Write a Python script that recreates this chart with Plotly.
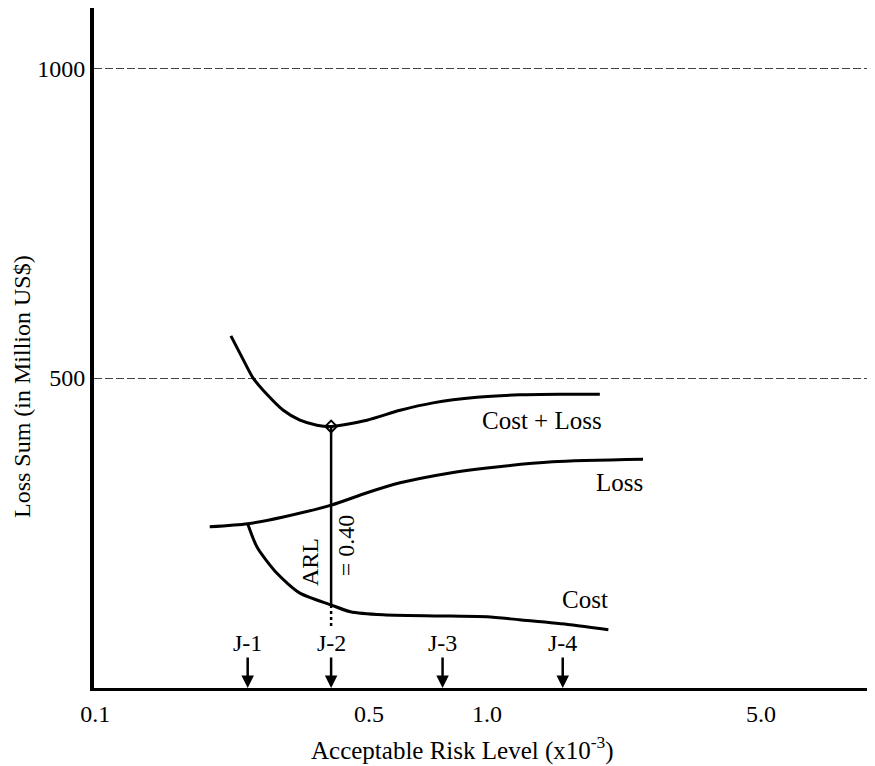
import math
import plotly.graph_objects as go

# ---- data ----
cost_loss_x = [0.222, 0.239, 0.253, 0.275, 0.302, 0.333, 0.368, 0.40, 0.494, 0.60, 0.728, 0.942, 1.21, 1.53, 1.94]
cost_loss_y = [568, 529, 500, 473, 448, 432, 424, 422, 432, 448, 460, 469, 473, 474, 474]

loss_x = [0.196, 0.245, 0.302, 0.40, 0.494, 0.60, 0.805, 1.0, 1.47, 2.5]
loss_y = [260, 265, 276, 295, 315, 331, 347, 355, 365, 369]

cost_x = [0.245, 0.259, 0.291, 0.333, 0.40, 0.448, 0.543, 0.805, 1.0, 1.21, 1.63, 2.04]
cost_y = [265, 227, 185, 153, 134, 123, 118, 116, 115, 110, 102, 94]

arl_value = 0.40
arl_top = 422
arl_solid_bottom = 134
arl_dot_bottom = 98

j_labels = ["J-1", "J-2", "J-3", "J-4"]
j_x = [0.245, 0.40, 0.77, 1.56]

x_tick_vals = [0.1, 0.5, 1.0, 5.0]
x_tick_text = ["0.1", "0.5", "1.0", "5.0"]
y_tick_vals = [500, 1000]
y_tick_text = ["500", "1000"]

curve_labels = ["Cost + Loss", "Loss", "Cost"]
curve_label_x = [1.38, 2.18, 1.78]
curve_label_y = [431, 331, 142]

FONT = "Liberation Serif, Times New Roman, serif"
L = math.log10

# page has an 8px body margin: figure size/margins compensate for it
W, H = 867, 758
ML, MT, MB, MR = 86, 0, 78, 0
PW, PH = W - ML - MR, H - MT - MB


def px(xp):
    return (xp - 8 - ML) / PW


def py(yp):
    return (H - MB - (yp - 8)) / PH


fig = go.Figure()
line_style = dict(color="black", width=3, shape="spline", smoothing=0.7)
fig.add_trace(go.Scatter(x=cost_loss_x, y=cost_loss_y, mode="lines", line=line_style, hoverinfo="skip"))
fig.add_trace(go.Scatter(x=loss_x, y=loss_y, mode="lines", line=line_style, hoverinfo="skip"))
fig.add_trace(go.Scatter(x=cost_x, y=cost_y, mode="lines", line=line_style, hoverinfo="skip"))

# ARL vertical line
fig.add_trace(go.Scatter(x=[arl_value, arl_value], y=[arl_top, arl_solid_bottom], mode="lines",
                         line=dict(color="black", width=2.5), hoverinfo="skip"))
fig.add_trace(go.Scatter(x=[arl_value, arl_value], y=[arl_solid_bottom, arl_dot_bottom], mode="lines",
                         line=dict(color="black", width=2.5, dash="dot"), hoverinfo="skip"))
fig.add_trace(go.Scatter(x=[arl_value], y=[arl_top], mode="markers",
                         marker=dict(symbol="diamond-open", size=9, color="black", line=dict(width=2)),
                         hoverinfo="skip"))

annotations = []
for t, x, y in zip(curve_labels, curve_label_x, curve_label_y):
    annotations.append(dict(x=L(x), y=y, xref="x", yref="y", text=t, showarrow=False,
                            font=dict(family=FONT, size=25, color="black")))

annotations.append(dict(x=L(0.353), y=203, xref="x", yref="y", text="ARL", textangle=-90,
                        showarrow=False, font=dict(family=FONT, size=24, color="black")))
annotations.append(dict(x=L(0.435), y=231, xref="x", yref="y", text="= 0.40", textangle=-90,
                        showarrow=False, font=dict(family=FONT, size=24, color="black")))

for t, x in zip(j_labels, j_x):
    annotations.append(dict(x=L(x), y=0, xref="x", yref="y", text=t, showarrow=True,
                            ax=0, ay=-45, arrowhead=2, arrowsize=1, arrowwidth=2.5,
                            arrowcolor="black", standoff=0, startstandoff=0,
                            font=dict(family=FONT, size=24, color="black")))

# axis titles
annotations.append(dict(x=px(462), y=py(749), xref="paper", yref="paper",
                        text="Acceptable Risk Level (x10<sup>-3</sup>)", showarrow=False,
                        xanchor="center", yanchor="middle",
                        font=dict(family=FONT, size=25, color="black")))
annotations.append(dict(x=px(22), y=py(387), xref="paper", yref="paper",
                        text="Loss Sum (in Million US$)", showarrow=False, textangle=-90,
                        xanchor="center", yanchor="middle",
                        font=dict(family=FONT, size=24, color="black")))

fig.update_layout(
    width=W, height=H,
    margin=dict(l=ML, r=MR, t=MT, b=MB, pad=0),
    paper_bgcolor="white", plot_bgcolor="white",
    showlegend=False,
    annotations=annotations,
    font=dict(family=FONT, size=24, color="black"),
)
fig.update_xaxes(type="log", range=[-1.003, 0.99], tickvals=x_tick_vals, ticktext=x_tick_text,
                 showgrid=False, zeroline=False, showline=True, linecolor="black", linewidth=3,
                 ticks="", ticklabelstandoff=2, tickfont=dict(family=FONT, size=24, color="black"))
fig.update_yaxes(range=[0, 1097], tickvals=y_tick_vals, ticktext=y_tick_text,
                 showgrid=True, gridcolor="#444", gridwidth=1, griddash="8px,3px",
                 zeroline=False, showline=True, linecolor="black", linewidth=4,
                 ticks="", ticklabelstandoff=0, tickfont=dict(family=FONT, size=24, color="black"))

fig.write_html("out.html")
